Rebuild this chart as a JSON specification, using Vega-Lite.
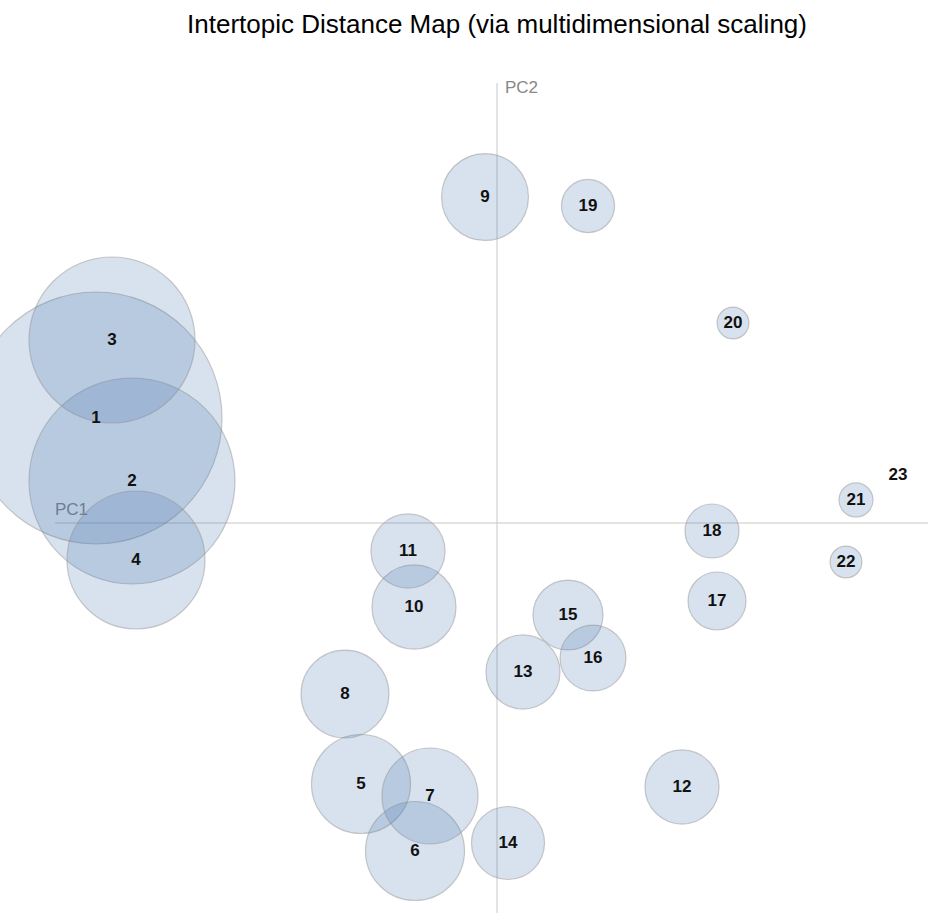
{
  "$schema": "https://vega.github.io/schema/vega-lite/v6.json",
  "autosize": {"type": "none"},
  "padding": {"left": 0, "top": 60, "right": 0, "bottom": 0},
  "width": 928,
  "height": 853,
  "background": "white",
  "config": {"view": {"stroke": null}},
  "title": {
    "text": "Intertopic Distance Map (via multidimensional scaling)",
    "font": "Liberation Sans",
    "fontSize": 26,
    "fontWeight": "normal",
    "color": "black",
    "anchor": "middle",
    "baseline": "alphabetic",
    "offset": 1,
    "dx": 33,
    "limit": 920
  },
  "datasets": {
    "topics": [
      {"topic": 1, "pc1": -0.401, "pc2": 0.105, "freq": 25.71},
      {"topic": 2, "pc1": -0.365, "pc2": 0.042, "freq": 17.18},
      {"topic": 3, "pc1": -0.385, "pc2": 0.183, "freq": 11.16},
      {"topic": 4, "pc1": -0.361, "pc2": -0.037, "freq": 7.71},
      {"topic": 5, "pc1": -0.136, "pc2": -0.261, "freq": 3.97},
      {"topic": 6, "pc1": -0.082, "pc2": -0.328, "freq": 3.97},
      {"topic": 7, "pc1": -0.067, "pc2": -0.273, "freq": 3.73},
      {"topic": 8, "pc1": -0.152, "pc2": -0.171, "freq": 3.13},
      {"topic": 9, "pc1": -0.012, "pc2": 0.326, "freq": 3.06},
      {"topic": 10, "pc1": -0.083, "pc2": -0.084, "freq": 2.86},
      {"topic": 11, "pc1": -0.089, "pc2": -0.028, "freq": 2.22},
      {"topic": 12, "pc1": 0.185, "pc2": -0.264, "freq": 2.22},
      {"topic": 13, "pc1": 0.026, "pc2": -0.149, "freq": 2.22},
      {"topic": 14, "pc1": 0.011, "pc2": -0.320, "freq": 2.16},
      {"topic": 15, "pc1": 0.071, "pc2": -0.092, "freq": 1.98},
      {"topic": 16, "pc1": 0.096, "pc2": -0.135, "freq": 1.76},
      {"topic": 17, "pc1": 0.220, "pc2": -0.078, "freq": 1.36},
      {"topic": 18, "pc1": 0.215, "pc2": -0.008, "freq": 1.18},
      {"topic": 19, "pc1": 0.091, "pc2": 0.317, "freq": 1.14},
      {"topic": 20, "pc1": 0.236, "pc2": 0.200, "freq": 0.41},
      {"topic": 21, "pc1": 0.359, "pc2": 0.023, "freq": 0.47},
      {"topic": 22, "pc1": 0.349, "pc2": -0.039, "freq": 0.41},
      {"topic": 23, "pc1": 0.401, "pc2": 0.048, "freq": 0}
    ],
    "axes": [
      {"name": "PC1", "x": -0.442, "x2": 0.431, "y": 0, "y2": 0},
      {"name": "PC2", "x": 0, "x2": 0, "y": 0.440, "y2": -0.390}
    ]
  },
  "layer": [
    {
      "data": {"name": "axes"},
      "mark": {"type": "rule", "color": "#c8c8c8", "strokeWidth": 1},
      "encoding": {
        "x": {"field": "x", "type": "quantitative", "scale": {"domain": [-0.497, 0.431], "nice": false, "zero": false}, "axis": null},
        "x2": {"field": "x2"},
        "y": {"field": "y", "type": "quantitative", "scale": {"domain": [-0.39, 0.463], "nice": false, "zero": false}, "axis": null},
        "y2": {"field": "y2"}
      }
    },
    {
      "data": {"name": "axes"},
      "transform": [{"filter": "datum.name == 'PC1'"}],
      "mark": {"type": "text", "font": "Liberation Sans", "fontSize": 17, "color": "#888888", "align": "left", "baseline": "bottom", "dy": -4},
      "encoding": {
        "x": {"field": "x", "type": "quantitative"},
        "y": {"field": "y", "type": "quantitative"},
        "text": {"field": "name"}
      }
    },
    {
      "data": {"name": "axes"},
      "transform": [{"filter": "datum.name == 'PC2'"}],
      "mark": {"type": "text", "font": "Liberation Sans", "fontSize": 17, "color": "#888888", "align": "left", "baseline": "top", "dx": 8, "dy": -3},
      "encoding": {
        "x": {"field": "x", "type": "quantitative"},
        "y": {"field": "y", "type": "quantitative"},
        "text": {"field": "name"}
      }
    },
    {
      "data": {"name": "topics"},
      "mark": {"type": "point", "shape": "circle", "filled": true, "fill": "#3b6ea8", "fillOpacity": 0.2, "stroke": "#8c8c8c", "strokeOpacity": 0.45, "strokeWidth": 1.2},
      "encoding": {
        "x": {"field": "pc1", "type": "quantitative"},
        "y": {"field": "pc2", "type": "quantitative"},
        "size": {"field": "freq", "type": "quantitative", "scale": {"type": "linear", "domain": [0, 100], "range": [0, 247028], "zero": true}, "legend": null}
      }
    },
    {
      "data": {"name": "topics"},
      "mark": {"type": "text", "font": "Liberation Sans", "fontSize": 17, "fontWeight": "bold", "color": "#111111", "align": "center", "baseline": "middle"},
      "encoding": {
        "x": {"field": "pc1", "type": "quantitative"},
        "y": {"field": "pc2", "type": "quantitative"},
        "text": {"field": "topic", "type": "nominal"}
      }
    }
  ]
}
